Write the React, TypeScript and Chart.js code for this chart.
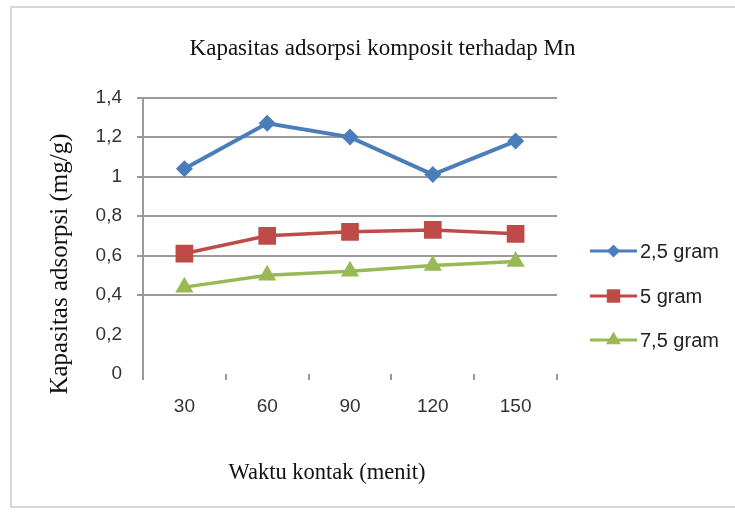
import React, { useEffect, useRef } from "react";
import { Chart, registerables } from "chart.js";

Chart.register(...registerables);

const categories = ["30", "60", "90", "120", "150"];
const series25 = [1.04, 1.27, 1.2, 1.01, 1.18];
const series5 = [0.61, 0.7, 0.72, 0.73, 0.71];
const series75 = [0.44, 0.5, 0.52, 0.55, 0.57];
const seriesNames = ["2,5 gram", "5 gram", "7,5 gram"];
const yTicks = [0, 0.2, 0.4, 0.6, 0.8, 1, 1.2, 1.4];

const chartTitle = "Kapasitas adsorpsi komposit terhadap Mn";
const xTitle = "Waktu kontak (menit)";
const yTitle = "Kapasitas adsorpsi (mg/g)";

const BLUE = "#4A7EBB";
const RED = "#BE4B48";
const GREEN = "#98B954";
const GRID = "#9a9a9a";

const styles = [
  { color: BLUE, point: "rectRot", radius: 8.5, legendRadius: 6.5, width: 4 },
  { color: RED, point: "rect", radius: 12.5, legendRadius: 9.5, width: 3.5 },
  { color: GREEN, point: "triangle", radius: 10.5, legendRadius: 8.5, width: 3.5 },
];

function drawMarker(ctx: any, style: string, x: number, y: number, r: number, color: string) {
  ctx.save();
  ctx.fillStyle = color;
  ctx.beginPath();
  if (style === "rectRot") {
    ctx.moveTo(x, y - r);
    ctx.lineTo(x + r, y);
    ctx.lineTo(x, y + r);
    ctx.lineTo(x - r, y);
  } else if (style === "rect") {
    const s = r * Math.SQRT1_2;
    ctx.rect(x - s, y - s, 2 * s, 2 * s);
  } else {
    const a = (Math.PI * 2) / 3;
    for (let k = 0; k < 3; k++) {
      const ang = -Math.PI / 2 + k * a;
      const px = x + Math.cos(ang) * r;
      const py = y + Math.sin(ang) * r;
      if (k === 0) ctx.moveTo(px, py);
      else ctx.lineTo(px, py);
    }
  }
  ctx.closePath();
  ctx.fill();
  ctx.restore();
}

const sideText = {
  id: "sideText",
  afterDraw(chart: any) {
    const ctx = chart.ctx;
    const area = chart.chartArea;
    ctx.save();
    ctx.fillStyle = "#111";
    ctx.textAlign = "center";
    ctx.textBaseline = "middle";
    // y axis title
    ctx.font = "25px 'Liberation Serif'";
    ctx.save();
    ctx.translate(60, 264);
    ctx.rotate(-Math.PI / 2);
    ctx.fillText(yTitle, 0, 0);
    ctx.restore();
    // x axis title
    ctx.font = "22.5px 'Liberation Serif'";
    ctx.fillText(xTitle, 327, 473);
    // legend
    const lx = area.right + 33;
    const ys = [251, 296, 340];
    chart.data.datasets.forEach((ds: any, i: number) => {
      const st = styles[i];
      const y = ys[i];
      ctx.strokeStyle = st.color;
      ctx.lineWidth = 3;
      ctx.beginPath();
      ctx.moveTo(lx, y);
      ctx.lineTo(lx + 47, y);
      ctx.stroke();
      drawMarker(ctx, st.point, lx + 23.5, y, st.legendRadius, st.color);
      ctx.fillStyle = "#222";
      ctx.textAlign = "left";
      ctx.font = "20px 'Liberation Sans'";
      ctx.fillText(ds.label, lx + 50, y + 1);
    });
    ctx.restore();
  },
};

export default function App() {
  const ref = useRef<HTMLCanvasElement | null>(null);

  useEffect(() => {
    document.body.style.margin = "0";
    const canvas = ref.current;
    if (!canvas) return;
    const data = [series25, series5, series75];
    const chart = new Chart(canvas, {
      type: "line",
      data: {
        labels: categories,
        datasets: data.map((d, i) => ({
          label: seriesNames[i],
          data: d,
          borderColor: styles[i].color,
          backgroundColor: styles[i].color,
          borderWidth: styles[i].width,
          pointStyle: styles[i].point as any,
          pointRadius: styles[i].radius,
          pointBorderWidth: 0,
          pointBackgroundColor: styles[i].color,
          tension: 0,
          fill: false,
        })),
      },
      options: {
        animation: false,
        responsive: false,
        maintainAspectRatio: false,
        layout: { padding: { left: 30, right: 0, top: 7, bottom: 8 } },
        plugins: {
          legend: { display: false },
          tooltip: { enabled: false },
          title: {
            display: true,
            text: chartTitle,
            color: "#111",
            font: { family: "'Liberation Serif'", size: 23, weight: "normal" },
            padding: { top: 28, bottom: 35 },
          },
        },
        scales: {
          x: {
            type: "category",
            offset: true,
            grid: {
              offset: true,
              drawOnChartArea: false,
              drawTicks: true,
              tickLength: 6,
              color: GRID,
              lineWidth: 2,
            },
            border: { display: false },
            ticks: {
              color: "#333",
              padding: 15,
              font: { family: "'Liberation Sans'", size: 19 },
            },
            afterFit: (s: any) => {
              s.height = 138;
            },
          },
          y: {
            type: "linear",
            min: 0,
            max: 1.4,
            afterBuildTicks: (s: any) => {
              s.ticks = yTicks.map((v) => ({ value: v }));
            },
            grid: {
              color: (c: any) =>
                c.tick && c.tick.value < 0.3 ? "rgba(0,0,0,0)" : GRID,
              lineWidth: 2,
              drawTicks: true,
              tickLength: 6,
            },
            border: { display: true, color: GRID, width: 2 },
            ticks: {
              color: "#333",
              padding: 15,
              font: { family: "'Liberation Sans'", size: 19 },
              callback: (v: any) =>
                String(Math.round(Number(v) * 10) / 10).replace(".", ","),
            },
            afterFit: (s: any) => {
              s.width = 113;
            },
          },
          y2: {
            type: "linear",
            position: "right",
            display: true,
            grid: { display: false },
            border: { display: false },
            ticks: { display: false },
            afterFit: (s: any) => {
              s.width = 178;
            },
          },
        },
      },
      plugins: [sideText],
    });
    return () => chart.destroy();
  }, []);

  return (
    <div style={{ position: "relative", width: 735, height: 520, overflow: "hidden", background: "#fff" }}>
      <div
        style={{
          position: "absolute",
          left: 10,
          top: 6,
          width: 760,
          height: 502,
          border: "2px solid #d6d6d6",
          boxSizing: "border-box",
        }}
      />
      <canvas ref={ref} width={735} height={520} style={{ position: "absolute", left: 0, top: 0 }} />
    </div>
  );
}
